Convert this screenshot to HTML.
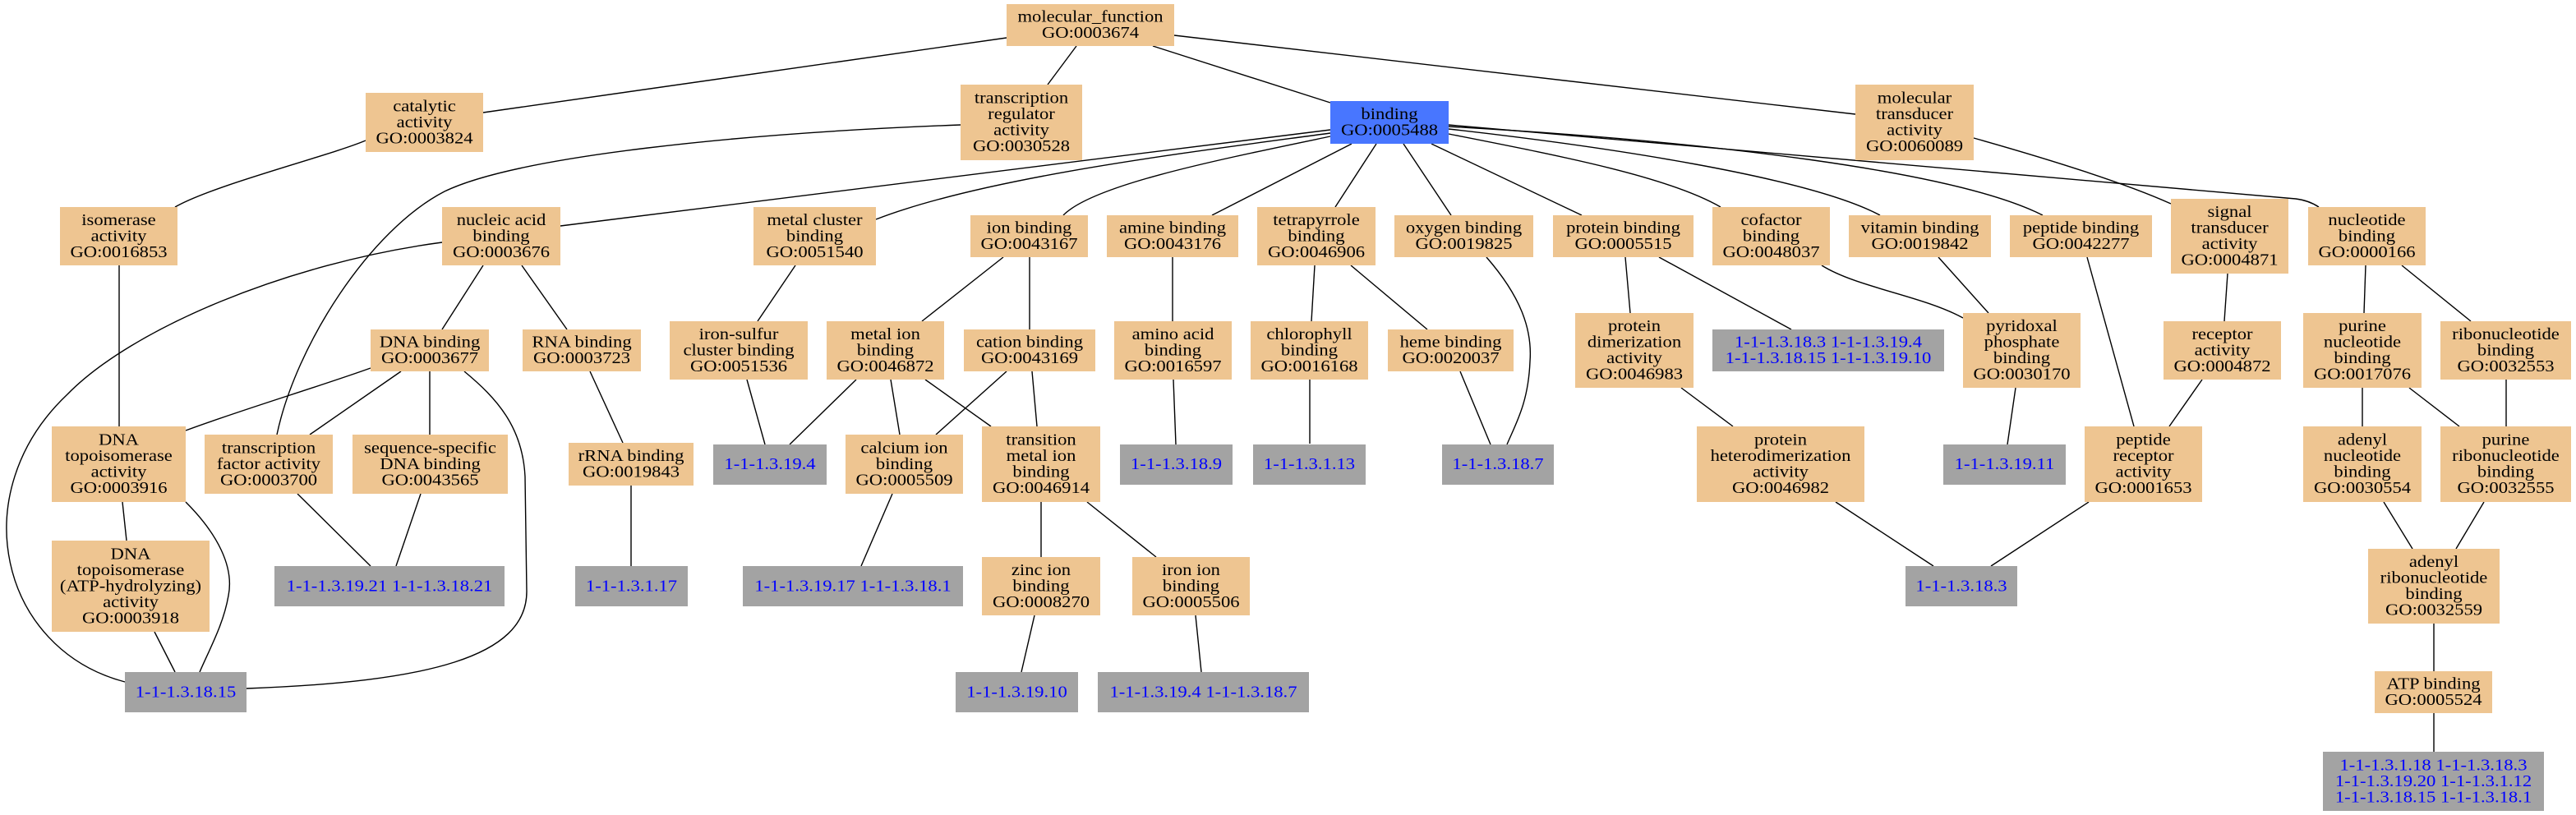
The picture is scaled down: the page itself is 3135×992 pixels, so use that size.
<!DOCTYPE html>
<html><head><meta charset="utf-8"><style>
html,body{margin:0;padding:0;background:#fff;}
svg{display:block;}
text{font-family:"Liberation Serif","DejaVu Serif",serif;font-size:19.6px;text-anchor:middle;fill:#000;}
.g text{fill:#0000ff;}
.t{fill:#eec591;}
.gr{fill:#a3a3a3;}
.bl{fill:#4876ff;}
path{fill:none;stroke:#000;stroke-width:1.4;}
</style></head><body>
<svg width="3135" height="992" viewBox="0 0 3135 992" xmlns="http://www.w3.org/2000/svg">
<rect x="0" y="0" width="3135" height="992" fill="#fff"/>
<!-- edges -->
<path d="M1225,46 L588,137"/>
<path d="M1310,56 L1275,103"/>
<path d="M1403,56 L1619,125"/>
<path d="M1429,43 L2258,139"/>
<path d="M445,171 C400,190 260,225 213,252"/>
<path d="M145,323 L145,519"/>
<path d="M1169,152 C900,162 630,190 541,233 C450,280 360,420 337,529"/>
<path d="M1619,158 L682,275"/>
<path d="M1619,162 C1450,185 1200,215 1066,267"/>
<path d="M1619,166 C1480,195 1330,225 1294,262"/>
<path d="M1645,175 L1475,262"/>
<path d="M1675,175 L1625,252"/>
<path d="M1708,175 L1766,262"/>
<path d="M1742,175 L1925,262"/>
<path d="M1763,163 C1900,190 2030,215 2094,252"/>
<path d="M1763,157 C1950,178 2200,215 2288,262"/>
<path d="M1763,154 C2080,172 2380,208 2486,262"/>
<path d="M1763,152 L2794,242 Q2810,244 2822,252"/>
<path d="M538,295 C350,320 160,400 82,480 C-45,600 0,790 152,830"/>
<path d="M588,323 L538,401"/>
<path d="M635,323 L690,401"/>
<path d="M451,448 C390,470 290,500 226,524"/>
<path d="M488,452 L377,529"/>
<path d="M523,452 L523,529"/>
<path d="M565,452 C605,485 636,520 639,580 L641,720 C641,800 520,830 300,838"/>
<path d="M718,452 L758,539"/>
<path d="M768,591 L768,689"/>
<path d="M149,611 L154,658"/>
<path d="M226,611 C265,650 285,690 278,725 C272,760 255,790 243,818"/>
<path d="M188,769 L213,818"/>
<path d="M362,601 L451,689"/>
<path d="M512,601 L482,689"/>
<path d="M968,323 L922,391"/>
<path d="M909,462 L931,541"/>
<path d="M1221,313 L1122,391"/>
<path d="M1253,313 L1253,401"/>
<path d="M1042,462 L961,541"/>
<path d="M1084,462 L1095,529"/>
<path d="M1126,462 L1206,519"/>
<path d="M1225,452 L1139,529"/>
<path d="M1256,452 L1262,519"/>
<path d="M1086,601 L1048,689"/>
<path d="M1267,611 L1267,678"/>
<path d="M1323,611 L1407,678"/>
<path d="M1259,749 L1243,818"/>
<path d="M1455,749 L1462,818"/>
<path d="M1427,313 L1427,391"/>
<path d="M1428,462 L1431,541"/>
<path d="M1600,323 L1596,391"/>
<path d="M1644,323 L1737,401"/>
<path d="M1594,462 L1594,540"/>
<path d="M1777,452 L1814,541"/>
<path d="M1809,313 C1850,360 1865,400 1862,440 C1860,490 1845,515 1834,541"/>
<path d="M1978,313 L1984,381"/>
<path d="M2019,313 L2180,401"/>
<path d="M2046,472 L2109,519"/>
<path d="M2234,611 L2353,689"/>
<path d="M2217,323 C2260,350 2340,360 2389,387"/>
<path d="M2359,313 L2420,381"/>
<path d="M2453,472 L2443,541"/>
<path d="M2540,313 L2597,519"/>
<path d="M2402,168 C2480,190 2580,220 2642,248"/>
<path d="M2711,333 L2707,391"/>
<path d="M2680,462 L2640,519"/>
<path d="M2542,611 L2423,689"/>
<path d="M2879,323 L2877,381"/>
<path d="M2923,323 L3007,391"/>
<path d="M2875,472 L2875,519"/>
<path d="M2932,472 L2993,519"/>
<path d="M3050,462 L3050,519"/>
<path d="M2901,611 L2936,668"/>
<path d="M3023,611 L2989,668"/>
<path d="M2962,759 L2962,817"/>
<path d="M2962,868 L2962,915"/>

<!-- nodes: boxes -->
<rect class="t" x="1225" y="5" width="204" height="51"/>
<rect class="t" x="445" y="113" width="143" height="72"/>
<rect class="t" x="1169" y="103" width="148" height="92"/>
<rect class="bl" x="1619" y="123" width="144" height="52"/>
<rect class="t" x="2258" y="103" width="144" height="92"/>
<rect class="t" x="73" y="252" width="143" height="71"/>
<rect class="t" x="538" y="252" width="144" height="71"/>
<rect class="t" x="917" y="252" width="149" height="71"/>
<rect class="t" x="1181" y="262" width="143" height="51"/>
<rect class="t" x="1347" y="262" width="160" height="51"/>
<rect class="t" x="1530" y="252" width="144" height="71"/>
<rect class="t" x="1697" y="262" width="169" height="51"/>
<rect class="t" x="1890" y="262" width="171" height="51"/>
<rect class="t" x="2084" y="252" width="143" height="71"/>
<rect class="t" x="2250" y="262" width="173" height="51"/>
<rect class="t" x="2446" y="262" width="173" height="51"/>
<rect class="t" x="2642" y="242" width="143" height="91"/>
<rect class="t" x="2809" y="252" width="143" height="71"/>
<rect class="t" x="451" y="401" width="144" height="51"/>
<rect class="t" x="636" y="401" width="144" height="51"/>
<rect class="t" x="815" y="391" width="168" height="71"/>
<rect class="t" x="1006" y="391" width="143" height="71"/>
<rect class="t" x="1173" y="401" width="160" height="51"/>
<rect class="t" x="1356" y="391" width="143" height="71"/>
<rect class="t" x="1522" y="391" width="143" height="71"/>
<rect class="t" x="1689" y="401" width="153" height="51"/>
<rect class="t" x="1917" y="381" width="144" height="91"/>
<rect class="gr" x="2084" y="401" width="282" height="51"/>
<rect class="t" x="2389" y="381" width="143" height="91"/>
<rect class="t" x="2633" y="391" width="143" height="71"/>
<rect class="t" x="2803" y="381" width="144" height="91"/>
<rect class="t" x="2970" y="391" width="159" height="71"/>
<rect class="t" x="63" y="519" width="163" height="92"/>
<rect class="t" x="249" y="529" width="156" height="72"/>
<rect class="t" x="429" y="529" width="189" height="72"/>
<rect class="t" x="692" y="539" width="152" height="52"/>
<rect class="gr" x="868" y="541" width="138" height="49"/>
<rect class="t" x="1029" y="529" width="143" height="72"/>
<rect class="t" x="1195" y="519" width="144" height="92"/>
<rect class="gr" x="1363" y="541" width="137" height="49"/>
<rect class="gr" x="1525" y="541" width="137" height="49"/>
<rect class="gr" x="1755" y="541" width="136" height="49"/>
<rect class="t" x="2065" y="519" width="204" height="92"/>
<rect class="gr" x="2365" y="541" width="149" height="49"/>
<rect class="t" x="2537" y="519" width="143" height="92"/>
<rect class="t" x="2803" y="519" width="144" height="92"/>
<rect class="t" x="2970" y="519" width="159" height="92"/>
<rect class="t" x="63" y="658" width="192" height="111"/>
<rect class="gr" x="334" y="689" width="280" height="49"/>
<rect class="gr" x="700" y="689" width="137" height="49"/>
<rect class="gr" x="904" y="689" width="268" height="49"/>
<rect class="t" x="1195" y="678" width="144" height="71"/>
<rect class="t" x="1378" y="678" width="143" height="71"/>
<rect class="gr" x="2319" y="689" width="136" height="49"/>
<rect class="t" x="2882" y="668" width="160" height="91"/>
<rect class="gr" x="152" y="818" width="148" height="49"/>
<rect class="gr" x="1163" y="818" width="149" height="49"/>
<rect class="gr" x="1336" y="818" width="257" height="49"/>
<rect class="t" x="2890" y="817" width="143" height="51"/>
<rect class="gr" x="2827" y="915" width="269" height="72"/>

<!-- labels -->
<g transform="translate(1327,0) scale(1.155,1)"><text><tspan x="0" y="26.75">molecular_function</tspan><tspan x="0" y="46.25">GO:0003674</tspan></text></g>
<g transform="translate(516.5,0) scale(1.155,1)"><text><tspan x="0" y="135.5">catalytic</tspan><tspan x="0" y="155">activity</tspan><tspan x="0" y="174.5">GO:0003824</tspan></text></g>
<g transform="translate(1243,0) scale(1.155,1)"><text><tspan x="0" y="125.75">transcription</tspan><tspan x="0" y="145.25">regulator</tspan><tspan x="0" y="164.75">activity</tspan><tspan x="0" y="184.25">GO:0030528</tspan></text></g>
<g transform="translate(1691,0) scale(1.155,1)"><text><tspan x="0" y="145.25">binding</tspan><tspan x="0" y="164.75">GO:0005488</tspan></text></g>
<g transform="translate(2330,0) scale(1.155,1)"><text><tspan x="0" y="125.75">molecular</tspan><tspan x="0" y="145.25">transducer</tspan><tspan x="0" y="164.75">activity</tspan><tspan x="0" y="184.25">GO:0060089</tspan></text></g>

<g transform="translate(144.5,0) scale(1.155,1)"><text><tspan x="0" y="274">isomerase</tspan><tspan x="0" y="293.5">activity</tspan><tspan x="0" y="313">GO:0016853</tspan></text></g>
<g transform="translate(610,0) scale(1.155,1)"><text><tspan x="0" y="274">nucleic acid</tspan><tspan x="0" y="293.5">binding</tspan><tspan x="0" y="313">GO:0003676</tspan></text></g>
<g transform="translate(991.5,0) scale(1.155,1)"><text><tspan x="0" y="274">metal cluster</tspan><tspan x="0" y="293.5">binding</tspan><tspan x="0" y="313">GO:0051540</tspan></text></g>
<g transform="translate(1252.5,0) scale(1.155,1)"><text><tspan x="0" y="283.75">ion binding</tspan><tspan x="0" y="303.25">GO:0043167</tspan></text></g>
<g transform="translate(1427,0) scale(1.155,1)"><text><tspan x="0" y="283.75">amine binding</tspan><tspan x="0" y="303.25">GO:0043176</tspan></text></g>
<g transform="translate(1602,0) scale(1.155,1)"><text><tspan x="0" y="274">tetrapyrrole</tspan><tspan x="0" y="293.5">binding</tspan><tspan x="0" y="313">GO:0046906</tspan></text></g>
<g transform="translate(1781.5,0) scale(1.155,1)"><text><tspan x="0" y="283.75">oxygen binding</tspan><tspan x="0" y="303.25">GO:0019825</tspan></text></g>
<g transform="translate(1975.5,0) scale(1.155,1)"><text><tspan x="0" y="283.75">protein binding</tspan><tspan x="0" y="303.25">GO:0005515</tspan></text></g>
<g transform="translate(2155.5,0) scale(1.155,1)"><text><tspan x="0" y="274">cofactor</tspan><tspan x="0" y="293.5">binding</tspan><tspan x="0" y="313">GO:0048037</tspan></text></g>
<g transform="translate(2336.5,0) scale(1.155,1)"><text><tspan x="0" y="283.75">vitamin binding</tspan><tspan x="0" y="303.25">GO:0019842</tspan></text></g>
<g transform="translate(2532.5,0) scale(1.155,1)"><text><tspan x="0" y="283.75">peptide binding</tspan><tspan x="0" y="303.25">GO:0042277</tspan></text></g>
<g transform="translate(2713.5,0) scale(1.155,1)"><text><tspan x="0" y="264.25">signal</tspan><tspan x="0" y="283.75">transducer</tspan><tspan x="0" y="303.25">activity</tspan><tspan x="0" y="322.75">GO:0004871</tspan></text></g>
<g transform="translate(2880.5,0) scale(1.155,1)"><text><tspan x="0" y="274">nucleotide</tspan><tspan x="0" y="293.5">binding</tspan><tspan x="0" y="313">GO:0000166</tspan></text></g>

<g transform="translate(523,0) scale(1.155,1)"><text><tspan x="0" y="422.75">DNA binding</tspan><tspan x="0" y="442.25">GO:0003677</tspan></text></g>
<g transform="translate(708,0) scale(1.155,1)"><text><tspan x="0" y="422.75">RNA binding</tspan><tspan x="0" y="442.25">GO:0003723</tspan></text></g>
<g transform="translate(899,0) scale(1.155,1)"><text><tspan x="0" y="413">iron-sulfur</tspan><tspan x="0" y="432.5">cluster binding</tspan><tspan x="0" y="452">GO:0051536</tspan></text></g>
<g transform="translate(1077.5,0) scale(1.155,1)"><text><tspan x="0" y="413">metal ion</tspan><tspan x="0" y="432.5">binding</tspan><tspan x="0" y="452">GO:0046872</tspan></text></g>
<g transform="translate(1253,0) scale(1.155,1)"><text><tspan x="0" y="422.75">cation binding</tspan><tspan x="0" y="442.25">GO:0043169</tspan></text></g>
<g transform="translate(1427.5,0) scale(1.155,1)"><text><tspan x="0" y="413">amino acid</tspan><tspan x="0" y="432.5">binding</tspan><tspan x="0" y="452">GO:0016597</tspan></text></g>
<g transform="translate(1593.5,0) scale(1.155,1)"><text><tspan x="0" y="413">chlorophyll</tspan><tspan x="0" y="432.5">binding</tspan><tspan x="0" y="452">GO:0016168</tspan></text></g>
<g transform="translate(1765.5,0) scale(1.155,1)"><text><tspan x="0" y="422.75">heme binding</tspan><tspan x="0" y="442.25">GO:0020037</tspan></text></g>
<g transform="translate(1989,0) scale(1.155,1)"><text><tspan x="0" y="403.25">protein</tspan><tspan x="0" y="422.75">dimerization</tspan><tspan x="0" y="442.25">activity</tspan><tspan x="0" y="461.75">GO:0046983</tspan></text></g>
<g class="g" transform="translate(2225,0) scale(1.155,1)"><text><tspan x="0" y="422.75">1-1-1.3.18.3 1-1-1.3.19.4</tspan><tspan x="0" y="442.25">1-1-1.3.18.15 1-1-1.3.19.10</tspan></text></g>
<g transform="translate(2460.5,0) scale(1.155,1)"><text><tspan x="0" y="403.25">pyridoxal</tspan><tspan x="0" y="422.75">phosphate</tspan><tspan x="0" y="442.25">binding</tspan><tspan x="0" y="461.75">GO:0030170</tspan></text></g>
<g transform="translate(2704.5,0) scale(1.155,1)"><text><tspan x="0" y="413">receptor</tspan><tspan x="0" y="432.5">activity</tspan><tspan x="0" y="452">GO:0004872</tspan></text></g>
<g transform="translate(2875,0) scale(1.155,1)"><text><tspan x="0" y="403.25">purine</tspan><tspan x="0" y="422.75">nucleotide</tspan><tspan x="0" y="442.25">binding</tspan><tspan x="0" y="461.75">GO:0017076</tspan></text></g>
<g transform="translate(3049.5,0) scale(1.155,1)"><text><tspan x="0" y="413">ribonucleotide</tspan><tspan x="0" y="432.5">binding</tspan><tspan x="0" y="452">GO:0032553</tspan></text></g>

<g transform="translate(144.5,0) scale(1.155,1)"><text><tspan x="0" y="541.75">DNA</tspan><tspan x="0" y="561.25">topoisomerase</tspan><tspan x="0" y="580.75">activity</tspan><tspan x="0" y="600.25">GO:0003916</tspan></text></g>
<g transform="translate(327,0) scale(1.155,1)"><text><tspan x="0" y="551.5">transcription</tspan><tspan x="0" y="571">factor activity</tspan><tspan x="0" y="590.5">GO:0003700</tspan></text></g>
<g transform="translate(523.5,0) scale(1.155,1)"><text><tspan x="0" y="551.5">sequence-specific</tspan><tspan x="0" y="571">DNA binding</tspan><tspan x="0" y="590.5">GO:0043565</tspan></text></g>
<g transform="translate(768,0) scale(1.155,1)"><text><tspan x="0" y="561.25">rRNA binding</tspan><tspan x="0" y="580.75">GO:0019843</tspan></text></g>
<g class="g" transform="translate(937,0) scale(1.155,1)"><text x="0" y="571">1-1-1.3.19.4</text></g>
<g transform="translate(1100.5,0) scale(1.155,1)"><text><tspan x="0" y="551.5">calcium ion</tspan><tspan x="0" y="571">binding</tspan><tspan x="0" y="590.5">GO:0005509</tspan></text></g>
<g transform="translate(1267,0) scale(1.155,1)"><text><tspan x="0" y="541.75">transition</tspan><tspan x="0" y="561.25">metal ion</tspan><tspan x="0" y="580.75">binding</tspan><tspan x="0" y="600.25">GO:0046914</tspan></text></g>
<g class="g" transform="translate(1431.5,0) scale(1.155,1)"><text x="0" y="571">1-1-1.3.18.9</text></g>
<g class="g" transform="translate(1593.5,0) scale(1.155,1)"><text x="0" y="571">1-1-1.3.1.13</text></g>
<g class="g" transform="translate(1823,0) scale(1.155,1)"><text x="0" y="571">1-1-1.3.18.7</text></g>
<g transform="translate(2167,0) scale(1.155,1)"><text><tspan x="0" y="541.75">protein</tspan><tspan x="0" y="561.25">heterodimerization</tspan><tspan x="0" y="580.75">activity</tspan><tspan x="0" y="600.25">GO:0046982</tspan></text></g>
<g class="g" transform="translate(2439.5,0) scale(1.155,1)"><text x="0" y="571">1-1-1.3.19.11</text></g>
<g transform="translate(2608.5,0) scale(1.155,1)"><text><tspan x="0" y="541.75">peptide</tspan><tspan x="0" y="561.25">receptor</tspan><tspan x="0" y="580.75">activity</tspan><tspan x="0" y="600.25">GO:0001653</tspan></text></g>
<g transform="translate(2875,0) scale(1.155,1)"><text><tspan x="0" y="541.75">adenyl</tspan><tspan x="0" y="561.25">nucleotide</tspan><tspan x="0" y="580.75">binding</tspan><tspan x="0" y="600.25">GO:0030554</tspan></text></g>
<g transform="translate(3049.5,0) scale(1.155,1)"><text><tspan x="0" y="541.75">purine</tspan><tspan x="0" y="561.25">ribonucleotide</tspan><tspan x="0" y="580.75">binding</tspan><tspan x="0" y="600.25">GO:0032555</tspan></text></g>

<g transform="translate(159,0) scale(1.155,1)"><text><tspan x="0" y="680.5">DNA</tspan><tspan x="0" y="700">topoisomerase</tspan><tspan x="0" y="719.5">(ATP-hydrolyzing)</tspan><tspan x="0" y="739">activity</tspan><tspan x="0" y="758.5">GO:0003918</tspan></text></g>
<g class="g" transform="translate(474,0) scale(1.155,1)"><text x="0" y="719.5">1-1-1.3.19.21 1-1-1.3.18.21</text></g>
<g class="g" transform="translate(768.5,0) scale(1.155,1)"><text x="0" y="719.5">1-1-1.3.1.17</text></g>
<g class="g" transform="translate(1038,0) scale(1.155,1)"><text x="0" y="719.5">1-1-1.3.19.17 1-1-1.3.18.1</text></g>
<g transform="translate(1267,0) scale(1.155,1)"><text><tspan x="0" y="700">zinc ion</tspan><tspan x="0" y="719.5">binding</tspan><tspan x="0" y="739">GO:0008270</tspan></text></g>
<g transform="translate(1449.5,0) scale(1.155,1)"><text><tspan x="0" y="700">iron ion</tspan><tspan x="0" y="719.5">binding</tspan><tspan x="0" y="739">GO:0005506</tspan></text></g>
<g class="g" transform="translate(2387,0) scale(1.155,1)"><text x="0" y="719.5">1-1-1.3.18.3</text></g>
<g transform="translate(2962,0) scale(1.155,1)"><text><tspan x="0" y="690.25">adenyl</tspan><tspan x="0" y="709.75">ribonucleotide</tspan><tspan x="0" y="729.25">binding</tspan><tspan x="0" y="748.75">GO:0032559</tspan></text></g>

<g class="g" transform="translate(226,0) scale(1.155,1)"><text x="0" y="848.5">1-1-1.3.18.15</text></g>
<g class="g" transform="translate(1237.5,0) scale(1.155,1)"><text x="0" y="848.5">1-1-1.3.19.10</text></g>
<g class="g" transform="translate(1464.5,0) scale(1.155,1)"><text x="0" y="848.5">1-1-1.3.19.4 1-1-1.3.18.7</text></g>
<g transform="translate(2961.5,0) scale(1.155,1)"><text><tspan x="0" y="838.75">ATP binding</tspan><tspan x="0" y="858.25">GO:0005524</tspan></text></g>
<g class="g" transform="translate(2961.5,0) scale(1.155,1)"><text><tspan x="0" y="937.5">1-1-1.3.1.18 1-1-1.3.18.3</tspan><tspan x="0" y="957">1-1-1.3.19.20 1-1-1.3.1.12</tspan><tspan x="0" y="976.5">1-1-1.3.18.15 1-1-1.3.18.1</tspan></text></g>
</svg>
</body></html>
